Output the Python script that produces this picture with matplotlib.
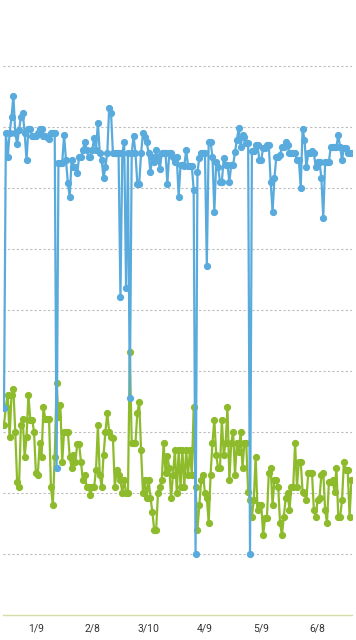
import matplotlib
matplotlib.use("Agg")
import matplotlib.pyplot as plt
import numpy as np
import pandas as pd

# daily series, 2018-12-23 .. 2019-06-26
dates = pd.date_range("2018-12-23", periods=186, freq="D")

blue = [
    33.9, 79.0, 75.1, 79.0, 81.6, 85.1, 79.0, 77.2, 79.5, 81.6,
    82.3, 79.0, 74.6, 79.7, 79.7, 78.5, 78.5, 78.5, 79.0, 79.7,
    79.7, 78.5, 78.5, 78.4, 78.0, 79.0, 79.0, 79.0, 24.1, 74.1,
    74.1, 74.1, 78.7, 74.6, 70.8, 68.5, 74.6, 73.4, 73.4, 72.5,
    75.1, 75.1, 76.2, 77.5, 76.2, 75.1, 75.1, 76.2, 78.2, 76.2,
    80.7, 75.7, 74.6, 71.6, 73.4, 75.7, 83.1, 82.3, 75.7, 75.7,
    75.7, 75.7, 52.1, 75.7, 77.5, 53.6, 75.7, 35.6, 75.7, 78.5,
    75.7, 70.7, 70.7, 75.7, 79.0, 78.4, 77.5, 75.7, 72.6, 75.1,
    74.3, 76.2, 75.1, 73.1, 75.7, 75.7, 75.7, 70.7, 75.7, 75.7,
    75.1, 74.3, 75.1, 68.5, 73.8, 73.8, 73.6, 76.2, 73.6, 73.6,
    73.6, 69.7, 10.0, 72.6, 74.9, 75.7, 75.7, 75.7, 57.2, 77.5,
    77.5, 75.1, 66.1, 74.3, 73.4, 71.0, 71.0, 74.9, 73.8, 73.8,
    71.0, 73.8, 73.8, 75.9, 77.9, 79.8, 76.7, 78.7, 78.4, 77.4,
    77.4, 10.0, 76.1, 76.1, 77.0, 77.0, 74.6, 74.6, 76.6, 76.6,
    77.0, 77.0, 71.0, 66.1, 71.6, 75.1, 75.1, 75.4, 76.7, 76.7,
    77.5, 77.0, 75.7, 75.7, 75.7, 75.7, 74.6, 74.6, 70.0, 79.7,
    77.9, 73.4, 75.7, 75.7, 76.1, 75.7, 73.4, 74.3, 74.3, 71.6,
    65.1, 74.3, 74.3, 74.3, 76.7, 76.7, 76.7, 76.7, 78.7, 76.7,
    74.6, 76.6, 76.6, 75.7, 75.7, 75.7,
]

green = [
    31.1, 34.1, 36.1, 29.2, 36.1, 37.0, 30.0, 21.8, 21.0, 31.1,
    32.1, 25.9, 29.2, 36.1, 32.0, 32.0, 30.0, 23.3, 23.0, 28.2,
    25.9, 34.1, 32.1, 32.1, 32.1, 21.0, 18.0, 25.9, 38.0, 32.5,
    34.4, 25.1, 30.0, 30.0, 30.0, 25.9, 24.1, 26.2, 25.1, 28.0,
    28.0, 25.1, 22.1, 23.0, 21.0, 21.0, 19.7, 21.0, 21.0, 23.8,
    31.1, 23.0, 21.0, 26.2, 30.0, 33.1, 30.0, 29.2, 29.0, 21.0,
    23.8, 23.0, 22.1, 20.0, 22.1, 20.0, 20.0, 43.1, 28.2, 28.2,
    28.2, 33.1, 34.9, 27.0, 20.0, 22.1, 19.2, 22.1, 19.2, 16.9,
    13.9, 13.9, 20.0, 21.0, 22.1, 28.2, 23.3, 26.1, 24.1, 19.2,
    23.0, 27.0, 20.0, 27.0, 21.0, 27.0, 21.0, 27.0, 23.0, 27.0,
    23.0, 34.1, 21.0, 13.9, 18.0, 22.1, 23.0, 20.0, 19.2, 15.1,
    23.0, 28.2, 32.0, 26.2, 24.1, 24.1, 32.0, 26.2, 28.2, 34.1,
    22.1, 28.2, 30.0, 23.0, 28.2, 26.7, 30.0, 24.1, 28.2, 28.2,
    20.2, 18.9, 16.1, 18.9, 25.9, 17.2, 18.0, 18.0, 13.1, 15.9,
    15.9, 23.3, 24.1, 18.0, 22.1, 22.1, 21.0, 15.1, 13.1, 16.1,
    19.2, 20.0, 17.2, 21.0, 21.0, 28.2, 21.0, 25.1, 25.1, 20.2,
    20.0, 18.9, 23.3, 23.3, 23.3, 17.2, 16.1, 18.9, 19.2, 23.0,
    23.3, 17.2, 15.1, 21.8, 21.8, 22.1, 20.2, 24.1, 16.1, 16.1,
    18.9, 25.1, 23.8, 23.8, 16.1, 22.1,
]

tick_dates = ["2019-01-09", "2019-02-08", "2019-03-10", "2019-04-09", "2019-05-09", "2019-06-08"]
tick_labels = ["1/9", "2/8", "3/10", "4/9", "5/9", "6/8"]

fig = plt.figure(figsize=(3.56, 6.4), dpi=100)
ax = fig.add_axes([3 / 356, 25 / 640, 349 / 356, 615 / 640])

x = np.arange(len(dates))
ax.plot(x, green, "-o", color="#8dbb2c", lw=1.6, ms=4.2, zorder=3)
ax.plot(x, blue, "-o", color="#58abdc", lw=1.6, ms=4.2, zorder=4)

ax.set_xlim(-0.53, 185.3)
ax.set_ylim(0, 100.8)

# dotted horizontal guides
for v in range(10, 100, 10):
    ax.axhline(v, color="#bdbdbd", lw=0.8, ls=(0, (2, 2)), zorder=1)

tick_pos = [dates.get_loc(pd.Timestamp(d)) for d in tick_dates]
ax.set_xticks(tick_pos)
ax.set_xticklabels(tick_labels, fontsize=7.5, color="#333333", family="Roboto")
ax.tick_params(axis="x", length=0, pad=6)
ax.set_yticks([])

for s in ["top", "right", "left"]:
    ax.spines[s].set_visible(False)
ax.spines["bottom"].set_color("#d8dca8")
ax.spines["bottom"].set_linewidth(1.0)

fig.savefig("out.png", dpi=100)
